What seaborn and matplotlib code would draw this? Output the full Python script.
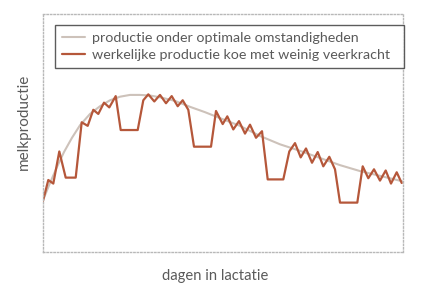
import matplotlib
matplotlib.use("Agg")
import matplotlib.pyplot as plt
import seaborn as sns
import pandas as pd

# optimal production curve (days, kg)
opt_days = [0, 7, 14, 21, 29, 37, 47, 57, 67, 77, 87, 97, 107, 117, 132, 147, 162,
            177, 197, 217, 237, 257, 277, 297, 317, 337, 359]
opt_milk = [8.7, 11.6, 14.3, 16.8, 19.2, 21.3, 23.2, 24.5, 25.5, 26.1, 26.4, 26.4, 26.3,
            26.0, 25.4, 24.4, 23.5, 22.5, 21.2, 19.5, 18.1, 17.0, 15.8, 14.6, 13.6, 12.8, 11.9]

# actual production of a cow with low resilience
act_days = [0, 5.3, 10.3, 16.3, 22.7, 32.7, 38.7, 44.7, 50.3, 55.3, 61, 66.3, 72.7,
            77.7, 94.7, 100.3, 105.3, 111.3, 117, 123, 128.7, 134.7, 139.7, 145.3,
            151, 168, 173, 179.7, 184.3, 190.3, 196, 202, 207, 213, 219,
            224.7, 240.3, 246.3, 252, 257.7, 263, 269, 274.7, 280.3, 286.3, 292,
            297, 314.3, 319.7, 325.3, 331, 337, 342.7, 348, 353.7, 358.7]
act_milk = [8.6, 12.1, 11.5, 16.9, 12.5, 12.5, 21.8, 21.2, 23.9, 23.2, 25.1, 24.3, 26.2,
            20.5, 20.5, 25.5, 26.5, 25.3, 26.4, 25.0, 26.2, 24.5, 25.5, 23.9,
            17.7, 17.7, 23.7, 21.5, 22.8, 20.6, 22.0, 19.9, 21.4, 19.2, 20.3,
            12.2, 12.2, 16.9, 18.3, 15.9, 17.4, 15.0, 16.8, 14.4, 16.0, 13.9,
            8.3, 8.3, 14.4, 12.4, 13.9, 12.0, 13.7, 11.5, 13.4, 11.6]

labels = ["productie onder optimale omstandigheden",
          "werkelijke productie koe met weinig veerkracht"]

sns.set_theme(style="white")
plt.rcParams["font.family"] = ["Lato", "DejaVu Sans"]

opt_df = pd.DataFrame({"dag": opt_days, "melk": opt_milk})
act_df = pd.DataFrame({"dag": act_days, "melk": act_milk})

fig = plt.figure(figsize=(4.23, 2.90), dpi=100)
ax = fig.add_axes([43/423, 1-252/290, 360/423, 238/290])

sns.lineplot(data=opt_df, x="dag", y="melk", ax=ax, color="#cdc2ba", linewidth=1.5,
             label=labels[0])
sns.lineplot(data=act_df, x="dag", y="melk", ax=ax, color="#b5573a", linewidth=1.6,
             label=labels[1])

ax.set_xlim(0, 360)
ax.set_ylim(0, 40)
ax.set_xticks([])
ax.set_yticks([])
for s in ax.spines.values():
    s.set_visible(True)
    s.set_linestyle((0, (1, 1.5)))
    s.set_color("#b8b8b8")
    s.set_linewidth(1.0)

ax.set_xlabel("dagen in lactatie", color="#5a5a5a", fontsize=10.6)
ax.xaxis.set_label_coords(0.478, -0.073)
ax.set_ylabel("melkproductie", color="#5a5a5a", fontsize=11)
ax.yaxis.set_label_coords(-0.033, 0.546)

leg = ax.legend(loc="upper left", bbox_to_anchor=(0.033, 0.955, 0.97, 0.0),
                mode="expand", frameon=True, fancybox=False, fontsize=10.3,
                handlelength=1.6, borderpad=0.5, labelspacing=0.35,
                handletextpad=0.5, borderaxespad=0)
leg.get_frame().set_edgecolor("#333333")
leg.get_frame().set_linewidth(1.0)
for t in leg.get_texts():
    t.set_color("#5a5a5a")

fig.savefig("out.png", dpi=100)
